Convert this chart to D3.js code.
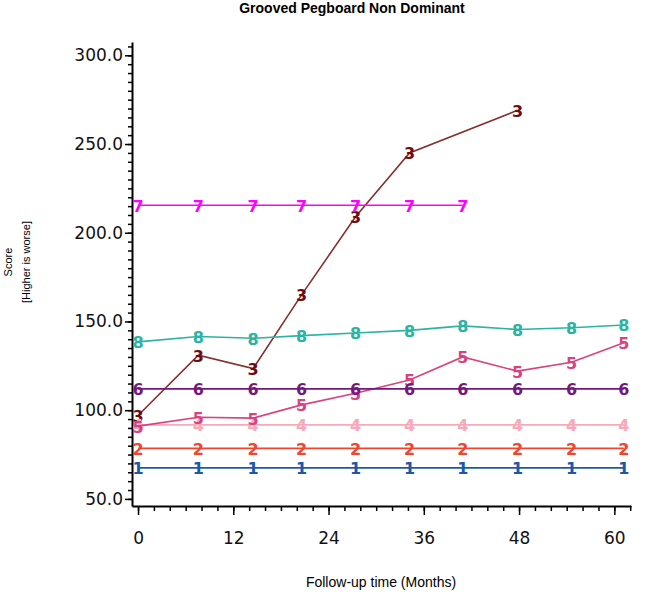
<!DOCTYPE html>
<html>
<head>
<meta charset="utf-8">
<script src="https://cdn.jsdelivr.net/npm/d3@7"></script>
<style>
  body { margin: 0; background: #fff; }
  svg { display: block; }
</style>
</head>
<body>
<div id="chart"></div>
<script>
// visit times (months) and series values
const visits = [0, 7.6, 14.5, 20.6, 27.4, 34.2, 40.9, 47.8, 54.6, 61.2];
const s1 = [67.5, 67.5, 67.5, 67.5, 67.5, 67.5, 67.5, 67.5, 67.5, 67.5];
const s2 = [78.5, 78.5, 78.5, 78.5, 78.5, 78.5, 78.5, 78.5, 78.5, 78.5];
const s3 = [97, 131, 123.5, 165, 209, 245, null, 269, null, null];
const s4 = [91.7, 91.7, 91.7, 91.7, 91.7, 91.7, 91.7, 91.7, 91.7, 91.7];
const s5 = [91, 96, 95.5, 103, 109.5, 117, 130, 122, 127, 138];
const s6 = [112, 112, 112, 112, 112, 112, 112, 112, 112, 112];
const s7 = [215.5, 215.5, 215.5, 215.5, 215.5, 215.5, 215.5, null, null, null];
const s8 = [138.5, 141.5, 140.5, 142, 143.5, 145, 147.5, 145.5, 146.5, 148];
const seriesNames = ['1', '2', '3', '4', '5', '6', '7', '8'];
const seriesValues = [s1, s2, s3, s4, s5, s6, s7, s8];
const xTicks = [0, 12, 24, 36, 48, 60];
const yTicks = [50, 100, 150, 200, 250, 300];

const colors = {
  '1': '#1c57a8', '2': '#f0452f', '3': '#6e0a10', '4': '#f8a9b9',
  '5': '#d8437f', '6': '#74187c', '7': '#ff00ff', '8': '#2cb3a1'
};
const lineColors = { ...colors, '3': '#843030' };

const W = 645, H = 596;
const margin = { top: 42, right: 14, bottom: 90, left: 132 };

const svg = d3.select('#chart').append('svg')
  .attr('width', W)
  .attr('height', H);

const x = d3.scaleLinear().domain([-0.76, 62.1]).range([margin.left, W - margin.right]);
const y = d3.scaleLinear().domain([46, 307.5]).range([H - margin.bottom, margin.top]);

// title
svg.append('text')
  .attr('x', 352).attr('y', 13)
  .attr('text-anchor', 'middle')
  .style('font-family', 'Liberation Sans, Arial, sans-serif')
  .style('font-weight', 'bold')
  .style('font-size', '14px')
  .text('Grooved Pegboard Non Dominant');

// y axis title
const yt = svg.append('text')
  .attr('transform', 'translate(0,262) rotate(-90)')
  .attr('text-anchor', 'middle')
  .style('font-family', 'Liberation Sans, Arial, sans-serif')
  .style('font-size', '11px');
yt.append('tspan').attr('x', 0).attr('y', 12).text('Score');
yt.append('tspan').attr('x', 0).attr('y', 30).text('[Higher is worse]');

// x axis title
svg.append('text')
  .attr('x', 381).attr('y', 587)
  .attr('text-anchor', 'middle')
  .style('font-family', 'Liberation Sans, Arial, sans-serif')
  .style('font-size', '14px')
  .text('Follow-up time (Months)');

// minor ticks
svg.append('g')
  .attr('transform', `translate(${margin.left},0)`)
  .call(d3.axisLeft(y).tickValues(d3.range(50, 306, 5)).tickSize(4).tickFormat(''))
  .call(g => g.select('.domain').remove())
  .selectAll('line').attr('stroke-width', 1.5);

svg.append('g')
  .attr('transform', `translate(0,${H - margin.bottom})`)
  .call(d3.axisBottom(x).tickValues(d3.range(0, 63, 2)).tickSize(5).tickFormat(''))
  .call(g => g.select('.domain').remove())
  .selectAll('line').attr('stroke-width', 1.5);

// major axes
const yAxis = svg.append('g')
  .attr('transform', `translate(${margin.left},0)`)
  .call(d3.axisLeft(y).tickValues(yTicks).tickFormat(d3.format('.1f')).tickSize(7).tickSizeOuter(0).tickPadding(2));
yAxis.select('.domain').attr('stroke-width', 2);
yAxis.selectAll('.tick line').attr('stroke-width', 1.5);
yAxis.selectAll('text')
  .style('font-family', 'DejaVu Sans, sans-serif')
  .style('font-size', '17px')
  .attr('fill', '#111');

const xAxis = svg.append('g')
  .attr('transform', `translate(0,${H - margin.bottom})`)
  .call(d3.axisBottom(x).tickValues(xTicks).tickSize(9).tickSizeOuter(0).tickPadding(17));
xAxis.select('.domain').attr('stroke-width', 2);
xAxis.selectAll('.tick line').attr('stroke-width', 1.5);
xAxis.selectAll('text')
  .style('font-family', 'DejaVu Sans, sans-serif')
  .style('font-size', '17px')
  .attr('fill', '#111');

// series: line plus the series number at each visit
const line = d3.line()
  .x(d => x(d[0]))
  .y(d => y(d[1]));

seriesNames.forEach((name, i) => {
  const pts = visits.map((v, j) => [v, seriesValues[i][j]]).filter(d => d[1] != null);
  const g = svg.append('g');
  g.append('path')
    .datum(pts)
    .attr('fill', 'none')
    .attr('stroke', lineColors[name])
    .attr('stroke-width', 1.6)
    .attr('d', line);
  g.selectAll('text')
    .data(pts)
    .enter()
    .append('text')
    .attr('x', d => x(d[0]))
    .attr('y', d => y(d[1]))
    .attr('dy', '0.4em')
    .attr('text-anchor', 'middle')
    .style('font-family', 'DejaVu Sans, sans-serif')
    .style('font-weight', 'bold')
    .style('font-size', '16px')
    .attr('fill', colors[name])
    .text(name);
});
</script>
</body>
</html>
